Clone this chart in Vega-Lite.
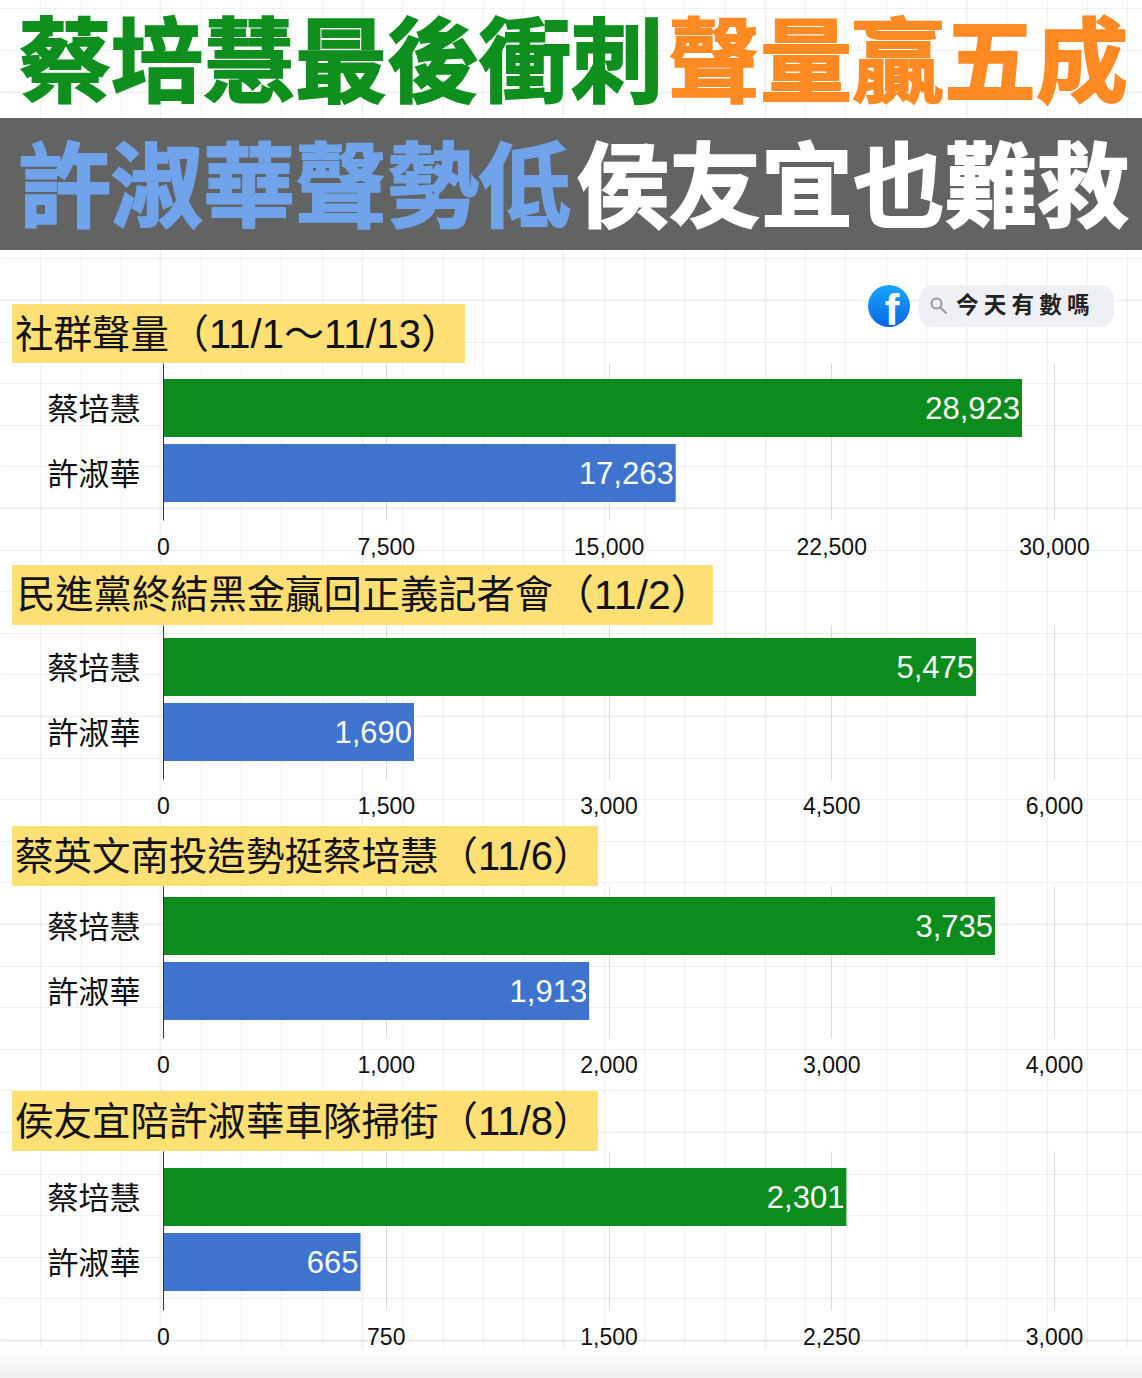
{
"$schema":"https://vega.github.io/schema/vega-lite/v6.json",
"background":"white","padding":0,"spacing":0,"bounds":"flush",
"config":{"view":{"stroke":null}},
"datasets":{
"paper":[{"u":0,"v":0}],
"one":[{"c":"蔡培慧","n":28923},{"c":"許淑華","n":17263}],
"two":[{"c":"蔡培慧","n":5475},{"c":"許淑華","n":1690}],
"three":[{"c":"蔡培慧","n":3735},{"c":"許淑華","n":1913}],
"four":[{"c":"蔡培慧","n":2301},{"c":"許淑華","n":665}]
},
"vconcat":[
{"width":1142,"height":250,"resolve":{"axis":{"x":"independent","y":"independent"}},"layer":[
{"data":{"name":"paper"},"mark":{"type":"point","opacity":0,"size":0,"strokeWidth":0},"encoding":{
"x":{"field":"u","type":"quantitative","scale":{"domain":[0,1142],"range":[0,1142],"nice":false},"axis":{"orient":"bottom","title":null,"labels":false,"ticks":false,"domain":false,"grid":true,"gridColor":"#000000","gridOpacity":0.055,"gridWidth":{"condition":{"test":"indexof([160,362,563,765,966,1168],datum.value)>=0","value":2},"value":1},"values":[40,81,121,160,201,241,281,322,362,402,443,483,523,563,604,644,684,725,765,805,845,886,926,966,1006,1047,1087,1127,1168]}},
"y":{"field":"v","type":"quantitative","scale":{"domain":[0,250],"range":[0,250],"nice":false},"axis":{"orient":"left","title":null,"labels":false,"ticks":false,"domain":false,"grid":true,"gridColor":"#000000","gridOpacity":0.055,"gridWidth":{"condition":{"test":"datum.value==92","value":2},"value":1},"values":[8,50,92,134,175,217]}}}},
{"data":{"name":"paper"},"mark":{"type":"rect","fill":"#5a5b5b","opacity":0.95},"encoding":{"x":{"datum":0,"type":"quantitative","axis":null},"x2":{"datum":1142},"y":{"datum":118,"type":"quantitative","axis":null},"y2":{"datum":250}}},
{"data":{"values":[{"label":"蔡培慧最後衝刺"}]},"mark":{"type":"text","align":"left","baseline":"middle","font":"Noto Sans CJK TC","fontWeight":"bold","fontSize":92,"fill":"#0e8f1e","stroke":"#0e8f1e","strokeWidth":2},"encoding":{"x":{"datum":19,"type":"quantitative","axis":null},"y":{"datum":67,"type":"quantitative","axis":null},"text":{"field":"label"}}},
{"data":{"values":[{"label":"聲量贏五成"}]},"mark":{"type":"text","align":"left","baseline":"middle","font":"Noto Sans CJK TC","fontWeight":"bold","fontSize":92,"fill":"#ff8a24","stroke":"#ff8a24","strokeWidth":2},"encoding":{"x":{"datum":668,"type":"quantitative","axis":null},"y":{"datum":67,"type":"quantitative","axis":null},"text":{"field":"label"}}},
{"data":{"values":[{"label":"許淑華聲勢低"}]},"mark":{"type":"text","align":"left","baseline":"middle","font":"Noto Sans CJK TC","fontWeight":"bold","fontSize":92,"fill":"#70a3ea","stroke":"#70a3ea","strokeWidth":2},"encoding":{"x":{"datum":19,"type":"quantitative","axis":null},"y":{"datum":192,"type":"quantitative","axis":null},"text":{"field":"label"}}},
{"data":{"values":[{"label":"侯友宜也難救"}]},"mark":{"type":"text","align":"left","baseline":"middle","font":"Noto Sans CJK TC","fontWeight":"bold","fontSize":92,"fill":"#ffffff","stroke":"#ffffff","strokeWidth":2},"encoding":{"x":{"datum":577,"type":"quantitative","axis":null},"y":{"datum":192,"type":"quantitative","axis":null},"text":{"field":"label"}}}
]},
{"width":1142,"height":113,"resolve":{"axis":{"x":"independent","y":"independent"}},"layer":[
{"data":{"name":"paper"},"mark":{"type":"point","opacity":0,"size":0,"strokeWidth":0},"encoding":{
"x":{"field":"u","type":"quantitative","scale":{"domain":[0,1142],"range":[0,1142],"nice":false},"axis":{"orient":"bottom","title":null,"labels":false,"ticks":false,"domain":false,"grid":true,"gridColor":"#000000","gridOpacity":0.055,"gridWidth":{"condition":{"test":"indexof([160,362,563,765,966,1168],datum.value)>=0","value":2},"value":1},"values":[40,81,121,160,201,241,281,322,362,402,443,483,523,563,604,644,684,725,765,805,845,886,926,966,1006,1047,1087,1127,1168]}},
"y":{"field":"v","type":"quantitative","scale":{"domain":[250,363],"range":[0,113],"nice":false},"axis":{"orient":"left","title":null,"labels":false,"ticks":false,"domain":false,"grid":true,"gridColor":"#000000","gridOpacity":0.055,"gridWidth":{"condition":{"test":"datum.value==300","value":2},"value":1},"values":[258,300,342]}}}},
{"data":{"name":"paper"},"mark":{"type":"rect","fill":"#ffe074"},"encoding":{"x":{"datum":12,"type":"quantitative","axis":null},"x2":{"datum":465},"y":{"datum":304,"type":"quantitative","axis":null},"y2":{"datum":363}}},
{"data":{"values":[{"label":"社群聲量"}]},"mark":{"type":"text","align":"left","baseline":"middle","font":"Noto Sans CJK TC","fontSize":38.5,"fill":"#111111"},"encoding":{"x":{"datum":15,"type":"quantitative","axis":null},"y":{"datum":336,"type":"quantitative","axis":null},"text":{"field":"label"}}},
{"data":{"values":[{"label":"（11/1～11/13）"}]},"mark":{"type":"text","align":"left","baseline":"middle","font":"Liberation Sans, Noto Sans CJK TC","fontSize":40,"fill":"#111111"},"encoding":{"x":{"datum":169,"type":"quantitative","axis":null},"y":{"datum":336,"type":"quantitative","axis":null},"text":{"field":"label"}}},
{"data":{"name":"paper"},"mark":{"type":"rect","fill":"#eef0f5","cornerRadius":14},"encoding":{"x":{"datum":919,"type":"quantitative","axis":null},"x2":{"datum":1114},"y":{"datum":285,"type":"quantitative","axis":null},"y2":{"datum":327}}},
{"data":{"name":"paper"},"mark":{"type":"point","filled":false,"stroke":"#777777","strokeWidth":2,"size":625,"shape":"M -0.6 -0.2 A 0.4 0.4 0 1 1 0.2 -0.2 A 0.4 0.4 0 1 1 -0.6 -0.2 M 0.1 0.1 L 0.6 0.6"},"encoding":{"x":{"datum":939,"type":"quantitative","axis":null},"y":{"datum":306,"type":"quantitative","axis":null}}},
{"data":{"values":[{"label":"今 天 有 數 嗎"}]},"mark":{"type":"text","align":"left","baseline":"middle","font":"Noto Sans CJK TC","fontWeight":"bold","fontSize":22.6,"fill":"#222222"},"encoding":{"x":{"datum":956,"type":"quantitative","axis":null},"y":{"datum":306,"type":"quantitative","axis":null},"text":{"field":"label"}}},
{"data":{"name":"paper"},"mark":{"type":"point","filled":true,"fill":{"gradient":"linear","x1":0,"y1":0,"x2":0,"y2":1,"stops":[{"offset":0,"color":"#19a6fb"},{"offset":1,"color":"#0866e6"}]},"opacity":1,"size":1764,"shape":"circle"},"encoding":{"x":{"datum":889,"type":"quantitative","axis":null},"y":{"datum":306,"type":"quantitative","axis":null}}},
{"data":{"values":[{"label":"f"}]},"mark":{"type":"text","align":"center","baseline":"middle","font":"Liberation Sans","fontWeight":"bold","fontSize":44,"fill":"#ffffff"},"encoding":{"x":{"datum":892,"type":"quantitative","axis":null},"y":{"datum":312,"type":"quantitative","axis":null},"text":{"field":"label"}}}
]},
{"width":1142,"height":157,"resolve":{"scale":{"x":"independent","y":"independent"},"axis":{"x":"independent","y":"independent"}},"layer":[
{"data":{"name":"paper"},"mark":{"type":"point","opacity":0,"size":0,"strokeWidth":0},"encoding":{
"x":{"field":"u","type":"quantitative","scale":{"domain":[0,1142],"range":[0,1142],"nice":false},"axis":{"orient":"bottom","title":null,"labels":false,"ticks":false,"domain":false,"grid":true,"gridColor":"#000000","gridOpacity":0.055,"gridWidth":{"condition":{"test":"indexof([160,362,563,765,966,1168],datum.value)>=0","value":2},"value":1},"values":[40,81,121,160,201,241,281,322,362,402,443,483,523,563,604,644,684,725,765,805,845,886,926,966,1006,1047,1087,1127,1168]}},
"y":{"field":"v","type":"quantitative","scale":{"domain":[363,520],"range":[0,157],"nice":false},"axis":{"orient":"right","title":null,"labels":false,"ticks":false,"domain":false,"grid":true,"gridColor":"#000000","gridOpacity":0.055,"gridWidth":{"condition":{"test":"datum.value==508","value":2},"value":1},"values":[383,425,466,508]}}}},
{"data":{"name":"one"},"encoding":{
"x":{"field":"n","type":"quantitative","scale":{"domain":[0,30000],"range":[163,1054],"nice":false},"axis":{"orient":"bottom","title":null,"domain":false,"ticks":false,"grid":true,"gridColor":"#d9d9d9","values":[0,7500,15000,22500,30000],"format":",d","labelFlush":false,"labelOverlap":false,"labelFont":"Liberation Sans","labelFontSize":23,"labelColor":"#111111","labelPadding":16}},
"y":{"field":"c","type":"nominal","scale":{"domain":["蔡培慧","許淑華"],"range":[0,157],"paddingInner":0.108,"paddingOuter":0.2615,"align":0.47},"axis":{"orient":"left","offset":-163,"title":null,"ticks":false,"domain":true,"domainColor":"#333333","domainWidth":1,"grid":false,"labelFont":"Noto Sans CJK TC","labelFontSize":31,"labelColor":"#111111","labelPadding":23,"labelOffset":3,"zindex":1}}},
"layer":[
{"mark":{"type":"bar"},"encoding":{"color":{"field":"c","type":"nominal","scale":{"domain":["蔡培慧","許淑華"],"range":["#0b8c1c","#3e74ce"]},"legend":null}}},
{"mark":{"type":"text","align":"right","baseline":"middle","dx":-2,"dy":2,"font":"Liberation Sans","fontSize":31,"fill":"#ffffff"},"encoding":{"text":{"field":"n","type":"quantitative","format":","}}}
]}
]},
{"width":1142,"height":105,"resolve":{"axis":{"x":"independent","y":"independent"}},"layer":[
{"data":{"name":"paper"},"mark":{"type":"point","opacity":0,"size":0,"strokeWidth":0},"encoding":{
"x":{"field":"u","type":"quantitative","scale":{"domain":[0,1142],"range":[0,1142],"nice":false},"axis":{"orient":"bottom","title":null,"labels":false,"ticks":false,"domain":false,"grid":true,"gridColor":"#000000","gridOpacity":0.055,"gridWidth":{"condition":{"test":"indexof([160,362,563,765,966,1168],datum.value)>=0","value":2},"value":1},"values":[40,81,121,160,201,241,281,322,362,402,443,483,523,563,604,644,684,725,765,805,845,886,926,966,1006,1047,1087,1127,1168]}},
"y":{"field":"v","type":"quantitative","scale":{"domain":[520,625],"range":[0,105],"nice":false},"axis":{"orient":"left","title":null,"labels":false,"ticks":false,"domain":false,"grid":true,"gridColor":"#000000","gridOpacity":0.055,"gridWidth":1,"values":[550,591]}}}},
{"data":{"name":"paper"},"mark":{"type":"rect","fill":"#ffe074"},"encoding":{"x":{"datum":12,"type":"quantitative","axis":null},"x2":{"datum":713},"y":{"datum":565,"type":"quantitative","axis":null},"y2":{"datum":625}}},
{"data":{"values":[{"label":"民進黨終結黑金贏回正義記者會"}]},"mark":{"type":"text","align":"left","baseline":"middle","font":"Noto Sans CJK TC","fontSize":38.3,"fill":"#111111"},"encoding":{"x":{"datum":17,"type":"quantitative","axis":null},"y":{"datum":597,"type":"quantitative","axis":null},"text":{"field":"label"}}},
{"data":{"values":[{"label":"（11/2）"}]},"mark":{"type":"text","align":"left","baseline":"middle","font":"Liberation Sans, Noto Sans CJK TC","fontSize":41,"fill":"#111111"},"encoding":{"x":{"datum":553,"type":"quantitative","axis":null},"y":{"datum":597,"type":"quantitative","axis":null},"text":{"field":"label"}}}
]},
{"width":1142,"height":154,"resolve":{"scale":{"x":"independent","y":"independent"},"axis":{"x":"independent","y":"independent"}},"layer":[
{"data":{"name":"paper"},"mark":{"type":"point","opacity":0,"size":0,"strokeWidth":0},"encoding":{
"x":{"field":"u","type":"quantitative","scale":{"domain":[0,1142],"range":[0,1142],"nice":false},"axis":{"orient":"bottom","title":null,"labels":false,"ticks":false,"domain":false,"grid":true,"gridColor":"#000000","gridOpacity":0.055,"gridWidth":{"condition":{"test":"indexof([160,362,563,765,966,1168],datum.value)>=0","value":2},"value":1},"values":[40,81,121,160,201,241,281,322,362,402,443,483,523,563,604,644,684,725,765,805,845,886,926,966,1006,1047,1087,1127,1168]}},
"y":{"field":"v","type":"quantitative","scale":{"domain":[625,779],"range":[0,154],"nice":false},"axis":{"orient":"right","title":null,"labels":false,"ticks":false,"domain":false,"grid":true,"gridColor":"#000000","gridOpacity":0.055,"gridWidth":{"condition":{"test":"datum.value==716","value":2},"value":1},"values":[633,674,716,758]}}}},
{"data":{"name":"two"},"encoding":{
"x":{"field":"n","type":"quantitative","scale":{"domain":[0,6000],"range":[163,1054],"nice":false},"axis":{"orient":"bottom","title":null,"domain":false,"ticks":false,"grid":true,"gridColor":"#d9d9d9","values":[0,1500,3000,4500,6000],"format":",d","labelFlush":false,"labelOverlap":false,"labelFont":"Liberation Sans","labelFontSize":23,"labelColor":"#111111","labelPadding":16}},
"y":{"field":"c","type":"nominal","scale":{"domain":["蔡培慧","許淑華"],"range":[0,154],"paddingInner":0.108,"paddingOuter":0.2385,"align":0.42},"axis":{"orient":"left","offset":-163,"title":null,"ticks":false,"domain":true,"domainColor":"#333333","domainWidth":1,"grid":false,"labelFont":"Noto Sans CJK TC","labelFontSize":31,"labelColor":"#111111","labelPadding":23,"labelOffset":3,"zindex":1}}},
"layer":[
{"mark":{"type":"bar"},"encoding":{"color":{"field":"c","type":"nominal","scale":{"domain":["蔡培慧","許淑華"],"range":["#0b8c1c","#3e74ce"]},"legend":null}}},
{"mark":{"type":"text","align":"right","baseline":"middle","dx":-2,"dy":2,"font":"Liberation Sans","fontSize":31,"fill":"#ffffff"},"encoding":{"text":{"field":"n","type":"quantitative","format":","}}}
]}
]},
{"width":1142,"height":107,"resolve":{"axis":{"x":"independent","y":"independent"}},"layer":[
{"data":{"name":"paper"},"mark":{"type":"point","opacity":0,"size":0,"strokeWidth":0},"encoding":{
"x":{"field":"u","type":"quantitative","scale":{"domain":[0,1142],"range":[0,1142],"nice":false},"axis":{"orient":"bottom","title":null,"labels":false,"ticks":false,"domain":false,"grid":true,"gridColor":"#000000","gridOpacity":0.055,"gridWidth":{"condition":{"test":"indexof([160,362,563,765,966,1168],datum.value)>=0","value":2},"value":1},"values":[40,81,121,160,201,241,281,322,362,402,443,483,523,563,604,644,684,725,765,805,845,886,926,966,1006,1047,1087,1127,1168]}},
"y":{"field":"v","type":"quantitative","scale":{"domain":[779,886],"range":[0,107],"nice":false},"axis":{"orient":"left","title":null,"labels":false,"ticks":false,"domain":false,"grid":true,"gridColor":"#000000","gridOpacity":0.055,"gridWidth":1,"values":[799,841,882]}}}},
{"data":{"name":"paper"},"mark":{"type":"rect","fill":"#ffe074"},"encoding":{"x":{"datum":12,"type":"quantitative","axis":null},"x2":{"datum":598},"y":{"datum":826,"type":"quantitative","axis":null},"y2":{"datum":886}}},
{"data":{"values":[{"label":"蔡英文南投造勢挺蔡培慧"}]},"mark":{"type":"text","align":"left","baseline":"middle","font":"Noto Sans CJK TC","fontSize":38.5,"fill":"#111111"},"encoding":{"x":{"datum":15,"type":"quantitative","axis":null},"y":{"datum":858,"type":"quantitative","axis":null},"text":{"field":"label"}}},
{"data":{"values":[{"label":"（11/6）"}]},"mark":{"type":"text","align":"left","baseline":"middle","font":"Liberation Sans, Noto Sans CJK TC","fontSize":40,"fill":"#111111"},"encoding":{"x":{"datum":438,"type":"quantitative","axis":null},"y":{"datum":858,"type":"quantitative","axis":null},"text":{"field":"label"}}}
]},
{"width":1142,"height":152,"resolve":{"scale":{"x":"independent","y":"independent"},"axis":{"x":"independent","y":"independent"}},"layer":[
{"data":{"name":"paper"},"mark":{"type":"point","opacity":0,"size":0,"strokeWidth":0},"encoding":{
"x":{"field":"u","type":"quantitative","scale":{"domain":[0,1142],"range":[0,1142],"nice":false},"axis":{"orient":"bottom","title":null,"labels":false,"ticks":false,"domain":false,"grid":true,"gridColor":"#000000","gridOpacity":0.055,"gridWidth":{"condition":{"test":"indexof([160,362,563,765,966,1168],datum.value)>=0","value":2},"value":1},"values":[40,81,121,160,201,241,281,322,362,402,443,483,523,563,604,644,684,725,765,805,845,886,926,966,1006,1047,1087,1127,1168]}},
"y":{"field":"v","type":"quantitative","scale":{"domain":[886,1038],"range":[0,152],"nice":false},"axis":{"orient":"right","title":null,"labels":false,"ticks":false,"domain":false,"grid":true,"gridColor":"#000000","gridOpacity":0.055,"gridWidth":{"condition":{"test":"datum.value==924","value":2},"value":1},"values":[924,966,1007]}}}},
{"data":{"name":"three"},"encoding":{
"x":{"field":"n","type":"quantitative","scale":{"domain":[0,4000],"range":[163,1054],"nice":false},"axis":{"orient":"bottom","title":null,"domain":false,"ticks":false,"grid":true,"gridColor":"#d9d9d9","values":[0,1000,2000,3000,4000],"format":",d","labelFlush":false,"labelOverlap":false,"labelFont":"Liberation Sans","labelFontSize":23,"labelColor":"#111111","labelPadding":16}},
"y":{"field":"c","type":"nominal","scale":{"domain":["蔡培慧","許淑華"],"range":[0,152],"paddingInner":0.108,"paddingOuter":0.223,"align":0.38},"axis":{"orient":"left","offset":-163,"title":null,"ticks":false,"domain":true,"domainColor":"#333333","domainWidth":1,"grid":false,"labelFont":"Noto Sans CJK TC","labelFontSize":31,"labelColor":"#111111","labelPadding":23,"labelOffset":3,"zindex":1}}},
"layer":[
{"mark":{"type":"bar"},"encoding":{"color":{"field":"c","type":"nominal","scale":{"domain":["蔡培慧","許淑華"],"range":["#0b8c1c","#3e74ce"]},"legend":null}}},
{"mark":{"type":"text","align":"right","baseline":"middle","dx":-2,"dy":2,"font":"Liberation Sans","fontSize":31,"fill":"#ffffff"},"encoding":{"text":{"field":"n","type":"quantitative","format":","}}}
]}
]},
{"width":1142,"height":113,"resolve":{"axis":{"x":"independent","y":"independent"}},"layer":[
{"data":{"name":"paper"},"mark":{"type":"point","opacity":0,"size":0,"strokeWidth":0},"encoding":{
"x":{"field":"u","type":"quantitative","scale":{"domain":[0,1142],"range":[0,1142],"nice":false},"axis":{"orient":"bottom","title":null,"labels":false,"ticks":false,"domain":false,"grid":true,"gridColor":"#000000","gridOpacity":0.055,"gridWidth":{"condition":{"test":"indexof([160,362,563,765,966,1168],datum.value)>=0","value":2},"value":1},"values":[40,81,121,160,201,241,281,322,362,402,443,483,523,563,604,644,684,725,765,805,845,886,926,966,1006,1047,1087,1127,1168]}},
"y":{"field":"v","type":"quantitative","scale":{"domain":[1038,1151],"range":[0,113],"nice":false},"axis":{"orient":"left","title":null,"labels":false,"ticks":false,"domain":false,"grid":true,"gridColor":"#000000","gridOpacity":0.055,"gridWidth":{"condition":{"test":"datum.value==1132","value":2},"value":1},"values":[1049,1090,1132]}}}},
{"data":{"name":"paper"},"mark":{"type":"rect","fill":"#ffe074"},"encoding":{"x":{"datum":12,"type":"quantitative","axis":null},"x2":{"datum":598},"y":{"datum":1091,"type":"quantitative","axis":null},"y2":{"datum":1151}}},
{"data":{"values":[{"label":"侯友宜陪許淑華車隊掃街"}]},"mark":{"type":"text","align":"left","baseline":"middle","font":"Noto Sans CJK TC","fontSize":38.5,"fill":"#111111"},"encoding":{"x":{"datum":15,"type":"quantitative","axis":null},"y":{"datum":1123,"type":"quantitative","axis":null},"text":{"field":"label"}}},
{"data":{"values":[{"label":"（11/8）"}]},"mark":{"type":"text","align":"left","baseline":"middle","font":"Liberation Sans, Noto Sans CJK TC","fontSize":40,"fill":"#111111"},"encoding":{"x":{"datum":438,"type":"quantitative","axis":null},"y":{"datum":1123,"type":"quantitative","axis":null},"text":{"field":"label"}}}
]},
{"width":1142,"height":159,"resolve":{"scale":{"x":"independent","y":"independent"},"axis":{"x":"independent","y":"independent"}},"layer":[
{"data":{"name":"paper"},"mark":{"type":"point","opacity":0,"size":0,"strokeWidth":0},"encoding":{
"x":{"field":"u","type":"quantitative","scale":{"domain":[0,1142],"range":[0,1142],"nice":false},"axis":{"orient":"bottom","title":null,"labels":false,"ticks":false,"domain":false,"grid":true,"gridColor":"#000000","gridOpacity":0.055,"gridWidth":{"condition":{"test":"indexof([160,362,563,765,966,1168],datum.value)>=0","value":2},"value":1},"values":[40,81,121,160,201,241,281,322,362,402,443,483,523,563,604,644,684,725,765,805,845,886,926,966,1006,1047,1087,1127,1168]}},
"y":{"field":"v","type":"quantitative","scale":{"domain":[1151,1310],"range":[0,159],"nice":false},"axis":{"orient":"right","title":null,"labels":false,"ticks":false,"domain":false,"grid":true,"gridColor":"#000000","gridOpacity":0.055,"gridWidth":1,"values":[1174,1215,1257,1298]}}}},
{"data":{"name":"four"},"encoding":{
"x":{"field":"n","type":"quantitative","scale":{"domain":[0,3000],"range":[163,1054],"nice":false},"axis":{"orient":"bottom","title":null,"domain":false,"ticks":false,"grid":true,"gridColor":"#d9d9d9","values":[0,750,1500,2250,3000],"format":",d","labelFlush":false,"labelOverlap":false,"labelFont":"Liberation Sans","labelFontSize":23,"labelColor":"#111111","labelPadding":16}},
"y":{"field":"c","type":"nominal","scale":{"domain":["蔡培慧","許淑華"],"range":[0,159],"paddingInner":0.108,"paddingOuter":0.277,"align":0.47},"axis":{"orient":"left","offset":-163,"title":null,"ticks":false,"domain":true,"domainColor":"#333333","domainWidth":1,"grid":false,"labelFont":"Noto Sans CJK TC","labelFontSize":31,"labelColor":"#111111","labelPadding":23,"labelOffset":3,"zindex":1}}},
"layer":[
{"mark":{"type":"bar"},"encoding":{"color":{"field":"c","type":"nominal","scale":{"domain":["蔡培慧","許淑華"],"range":["#0b8c1c","#3e74ce"]},"legend":null}}},
{"mark":{"type":"text","align":"right","baseline":"middle","dx":-2,"dy":2,"font":"Liberation Sans","fontSize":31,"fill":"#ffffff"},"encoding":{"text":{"field":"n","type":"quantitative","format":","}}}
]}
]},
{"width":1142,"height":68,"resolve":{"axis":{"x":"independent","y":"independent"}},"layer":[
{"data":{"name":"paper"},"mark":{"type":"rect","fill":{"gradient":"linear","x1":0,"y1":0,"x2":0,"y2":1,"stops":[{"offset":0,"color":"#ffffff"},{"offset":1,"color":"#f1f1f1"}]}},"encoding":{"x":{"datum":0,"type":"quantitative","scale":{"domain":[0,1142],"range":[0,1142],"nice":false},"axis":null},"x2":{"datum":1142},"y":{"datum":1348,"type":"quantitative","scale":{"domain":[1310,1378],"range":[0,68],"nice":false},"axis":null},"y2":{"datum":1378}}},
{"data":{"name":"paper"},"mark":{"type":"point","opacity":0,"size":0,"strokeWidth":0},"encoding":{
"x":{"field":"u","type":"quantitative","scale":{"domain":[0,1142],"range":[0,1142],"nice":false},"axis":{"orient":"bottom","title":null,"labels":false,"ticks":false,"domain":false,"grid":true,"gridColor":"#000000","gridOpacity":0.055,"gridWidth":{"condition":{"test":"indexof([160,362,563,765,966,1168],datum.value)>=0","value":2},"value":1},"values":[40,81,121,160,201,241,281,322,362,402,443,483,523,563,604,644,684,725,765,805,845,886,926,966,1006,1047,1087,1127,1168]}},
"y":{"field":"v","type":"quantitative","scale":{"domain":[1310,1378],"range":[0,68],"nice":false},"axis":{"orient":"left","title":null,"labels":false,"ticks":false,"domain":false,"grid":true,"gridColor":"#000000","gridOpacity":0.09,"gridWidth":2,"values":[1340]}}}}
]}
]}
